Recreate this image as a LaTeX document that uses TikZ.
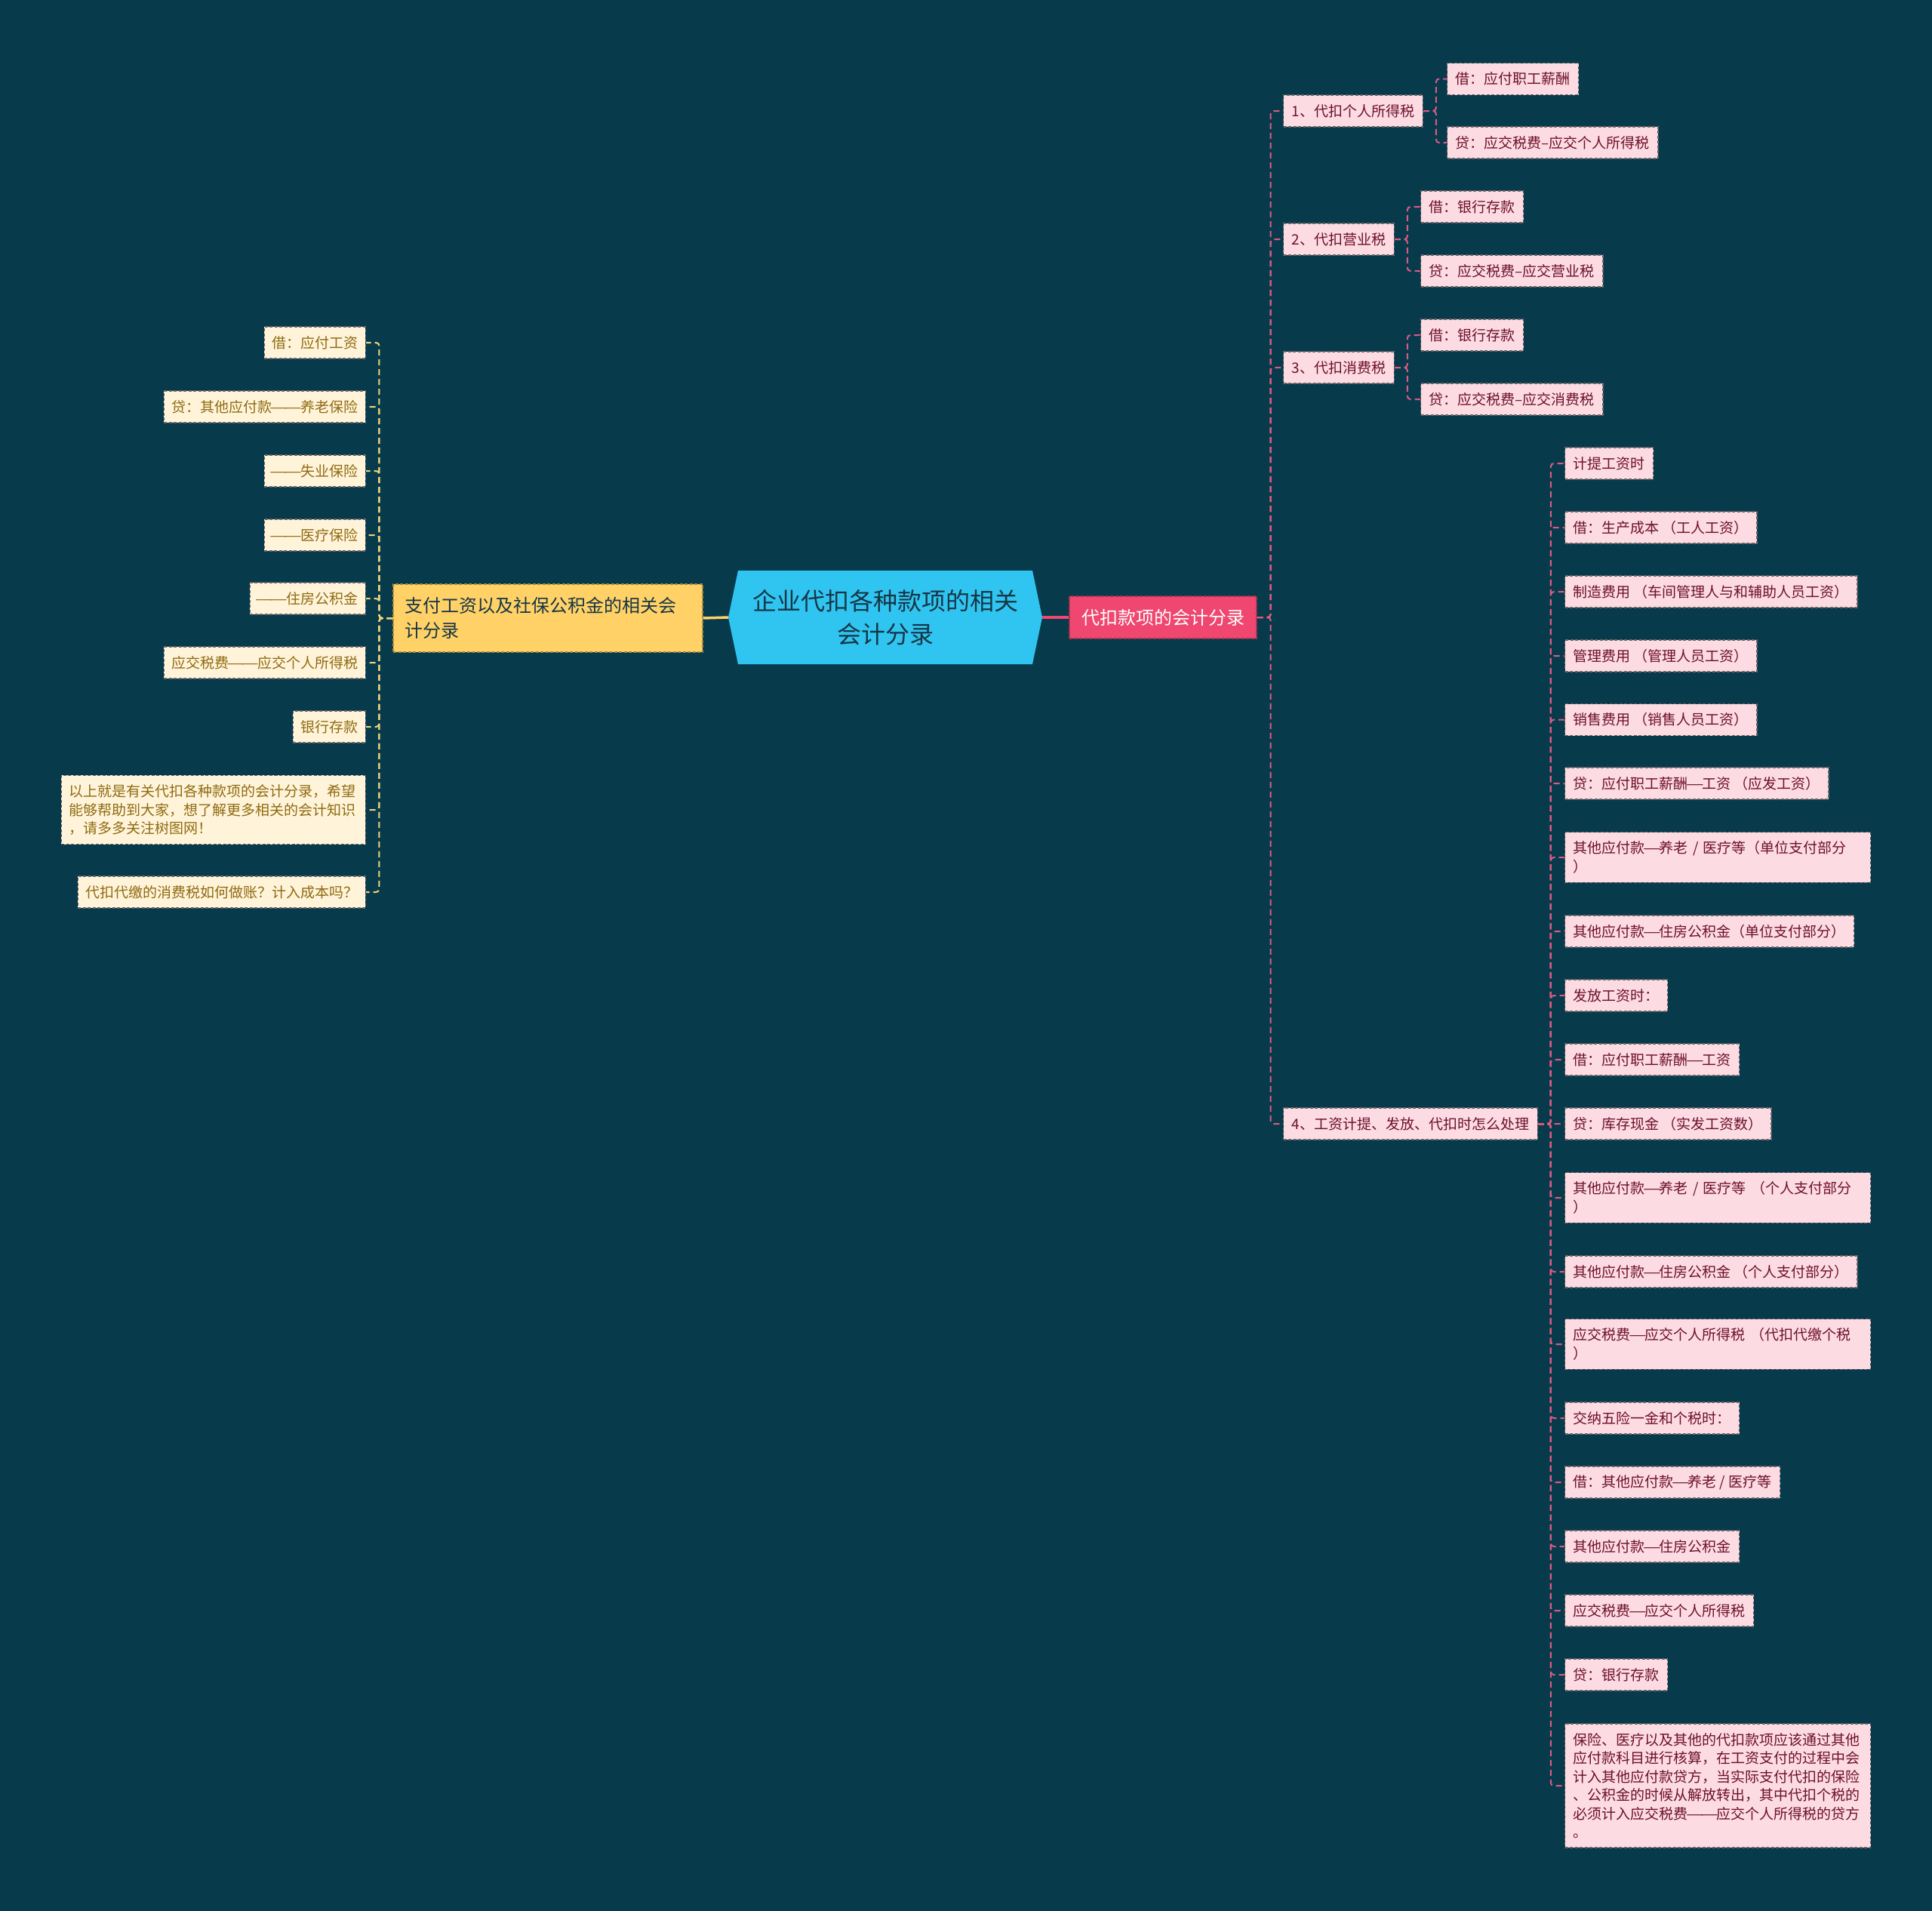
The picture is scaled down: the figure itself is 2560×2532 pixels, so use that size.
\documentclass[tikz,border=0pt]{standalone}
\usepackage{fontspec}
\usepackage{graphicx}
\setmainfont{Noto Sans CJK SC}
\definecolor{bgcol}{HTML}{073B4C}
\definecolor{hexcol}{HTML}{30C5F1}
\definecolor{hextext}{HTML}{163646}
\definecolor{pinkmain}{HTML}{EF476F}
\definecolor{pinkborder}{HTML}{A8324F}
\definecolor{pinkfill}{HTML}{FCDCE2}
\definecolor{pinktext}{HTML}{6E0F2B}
\definecolor{pinkline}{HTML}{DD5A80}
\definecolor{nodeborder}{HTML}{6F6468}
\definecolor{yelmain}{HTML}{FFD166}
\definecolor{yelborder}{HTML}{A88A3A}
\definecolor{creamfill}{HTML}{FFF4DA}
\definecolor{creamtext}{HTML}{8F6A10}
\definecolor{yelline}{HTML}{F2D37A}
\newcommand\fsnode{\fontsize{19pt}{24.5pt}\selectfont}
\newcommand\fsmid{\fontsize{24pt}{33pt}\selectfont}
\newcommand\fsbig{\fontsize{32pt}{44pt}\selectfont}
\newcommand\dd{\makebox[1em][c]{\scalebox{1.4}[1]{—}}}
\tikzset{
  boxborder/.style={line width=1.3pt, dash pattern=on 4pt off 2.5pt},
  pinkbox/.style={boxborder, draw=nodeborder, fill=pinkfill, text=pinktext, font=\fsnode,
    inner xsep=11pt, inner ysep=6pt, minimum height=42pt, anchor=west},
  pinkpara/.style={pinkbox, align=left, text width=383pt, inner ysep=12pt},
  creambox/.style={boxborder, draw=nodeborder, fill=creamfill, text=creamtext, font=\fsnode,
    inner xsep=10pt, inner ysep=6pt, minimum height=42pt, anchor=east},
  creampara/.style={creambox, align=left, text width=383pt, inner ysep=12pt},
  pdash/.style={draw=pinkline, line width=2pt, dash pattern=on 8pt off 5pt, rounded corners=4pt},
  ydash/.style={draw=yelline, line width=2pt, dash pattern=on 8pt off 5pt, rounded corners=4pt},
}
\begin{document}
\begin{tikzpicture}[x=1pt,y=-1pt]
\useasboundingbox (0,0) rectangle (2560,2532);
\fill[bgcol] (0,0) rectangle (2560,2532);

% root hexagon
\node[minimum width=416pt, minimum height=124pt, inner sep=0pt, align=center,
  text=hextext, font=\fsbig,
  path picture={\fill[hexcol] ([xshift=13pt]path picture bounding box.north west)
     -- ([xshift=-13pt]path picture bounding box.north east)
     -- (path picture bounding box.east)
     -- ([xshift=-13pt]path picture bounding box.south east)
     -- ([xshift=13pt]path picture bounding box.south west)
     -- (path picture bounding box.west) -- cycle;}]
  (root) at (1173,818) {企业代扣各种款项的相关\\会计分录};

% main branches
\node[fill=pinkmain, draw=pinkborder, boxborder, text=white, font=\fontsize{24pt}{30pt}\selectfont,
  minimum width=248pt, minimum height=56pt, inner sep=0pt] (pk) at (1541,818) {代扣款项的会计分录};
\node[fill=yelmain, draw=yelborder, boxborder, text=hextext, font=\fsmid, align=left,
  text width=380pt, minimum height=90pt, inner xsep=15pt, inner ysep=10pt] (yl) at (726,819)
  {支付工资以及社保公积金的相关会\\计分录};

\draw[pinkmain, line width=3.5pt] (root.east) -- (pk.west);
\draw[yelmain, line width=3.5pt] (root.west) -- (yl.east);

% left children
\node[creambox] (l1) at (485,454) {借：应付工资};
\node[creambox] (l2) at (485,539) {贷：其他应付款\dd\dd 养老保险};
\node[creambox] (l3) at (485,624) {\dd\dd 失业保险};
\node[creambox] (l4) at (485,709) {\dd\dd 医疗保险};
\node[creambox] (l5) at (485,793) {\dd\dd 住房公积金};
\node[creambox] (l6) at (485,878) {应交税费\dd\dd 应交个人所得税};
\node[creambox] (l7) at (485,963) {银行存款};
\node[creampara] (l8) at (485,1073) {以上就是有关代扣各种款项的会计分录，希望\\能够帮助到大家，想了解更多相关的会计知识\\，请多多关注树图网！};
\node[creambox] (l9) at (485,1182) {代扣代缴的消费税如何做账？计入成本吗？};
\foreach \c in {l1,l2,l3,l4,l5,l6,l7,l8,l9}
  \draw[ydash] (yl.west) -- ++(-18,0) |- (\c.east);

% right level 2
\node[pinkbox] (a1) at (1700,147) {1、代扣个人所得税};
\node[pinkbox] (a2) at (1700,317) {2、代扣营业税};
\node[pinkbox] (a3) at (1700,487) {3、代扣消费税};
\node[pinkbox] (a4) at (1700,1489) {4、工资计提、发放、代扣时怎么处理};
\foreach \c in {a1,a2,a3,a4}
  \draw[pdash] (pk.east) -- ++(18,0) |- (\c.west);

% group 1
\node[pinkbox] (b1) at (1917,104.5) {借：应付职工薪酬};
\node[pinkbox] (b2) at (1917,189) {贷：应交税费–应交个人所得税};
\foreach \c in {b1,b2}
  \draw[pdash] (a1.east) -- ++(17,0) |- (\c.west);

% group 2
\node[pinkbox] (c1) at (1882,274) {借：银行存款};
\node[pinkbox] (c2) at (1882,359) {贷：应交税费–应交营业税};
\foreach \c in {c1,c2}
  \draw[pdash] (a2.east) -- ++(17,0) |- (\c.west);

% group 3
\node[pinkbox] (d1) at (1882,444) {借：银行存款};
\node[pinkbox] (d2) at (1882,529) {贷：应交税费–应交消费税};
\foreach \c in {d1,d2}
  \draw[pdash] (a3.east) -- ++(17,0) |- (\c.west);

% group 4
\node[pinkbox] (e1) at (2073,614) {计提工资时};
\node[pinkbox] (e2) at (2073,699) {借：生产成本 （工人工资）};
\node[pinkbox] (e3) at (2073,784) {制造费用 （车间管理人与和辅助人员工资）};
\node[pinkbox] (e4) at (2073,869) {管理费用 （管理人员工资）};
\node[pinkbox] (e5) at (2073,953.5) {销售费用 （销售人员工资）};
\node[pinkbox] (e6) at (2073,1038) {贷：应付职工薪酬\dd 工资 （应发工资）};
\node[pinkpara] (e7) at (2073,1136) {其他应付款\dd 养老 / 医疗等（单位支付部分\\）};
\node[pinkbox] (e8) at (2073,1234) {其他应付款\dd 住房公积金（单位支付部分）};
\node[pinkbox] (e9) at (2073,1319) {发放工资时：};
\node[pinkbox] (e10) at (2073,1404) {借：应付职工薪酬\dd 工资};
\node[pinkbox] (e11) at (2073,1489) {贷：库存现金 （实发工资数）};
\node[pinkpara] (e12) at (2073,1587) {其他应付款\dd 养老 / 医疗等 （个人支付部分\\）};
\node[pinkbox] (e13) at (2073,1685) {其他应付款\dd 住房公积金 （个人支付部分）};
\node[pinkpara] (e14) at (2073,1781) {应交税费\dd 应交个人所得税 （代扣代缴个税\\）};
\node[pinkbox] (e15) at (2073,1879) {交纳五险一金和个税时：};
\node[pinkbox] (e16) at (2073,1964) {借：其他应付款\dd 养老 / 医疗等};
\node[pinkbox] (e17) at (2073,2049) {其他应付款\dd 住房公积金};
\node[pinkbox] (e18) at (2073,2134) {应交税费\dd 应交个人所得税};
\node[pinkbox] (e19) at (2073,2219) {贷：银行存款};
\node[pinkpara] (e20) at (2073,2366) {保险、医疗以及其他的代扣款项应该通过其他\\应付款科目进行核算，在工资支付的过程中会\\计入其他应付款贷方，当实际支付代扣的保险\\、公积金的时候从解放转出，其中代扣个税的\\必须计入应交税费\dd\dd 应交个人所得税的贷方\\。};
\foreach \c in {e1,e2,e3,e4,e5,e6,e7,e8,e9,e10,e11,e12,e13,e14,e15,e16,e17,e18,e19,e20}
  \draw[pdash] (a4.east) -- ++(17,0) |- (\c.west);
\end{tikzpicture}
\end{document}
